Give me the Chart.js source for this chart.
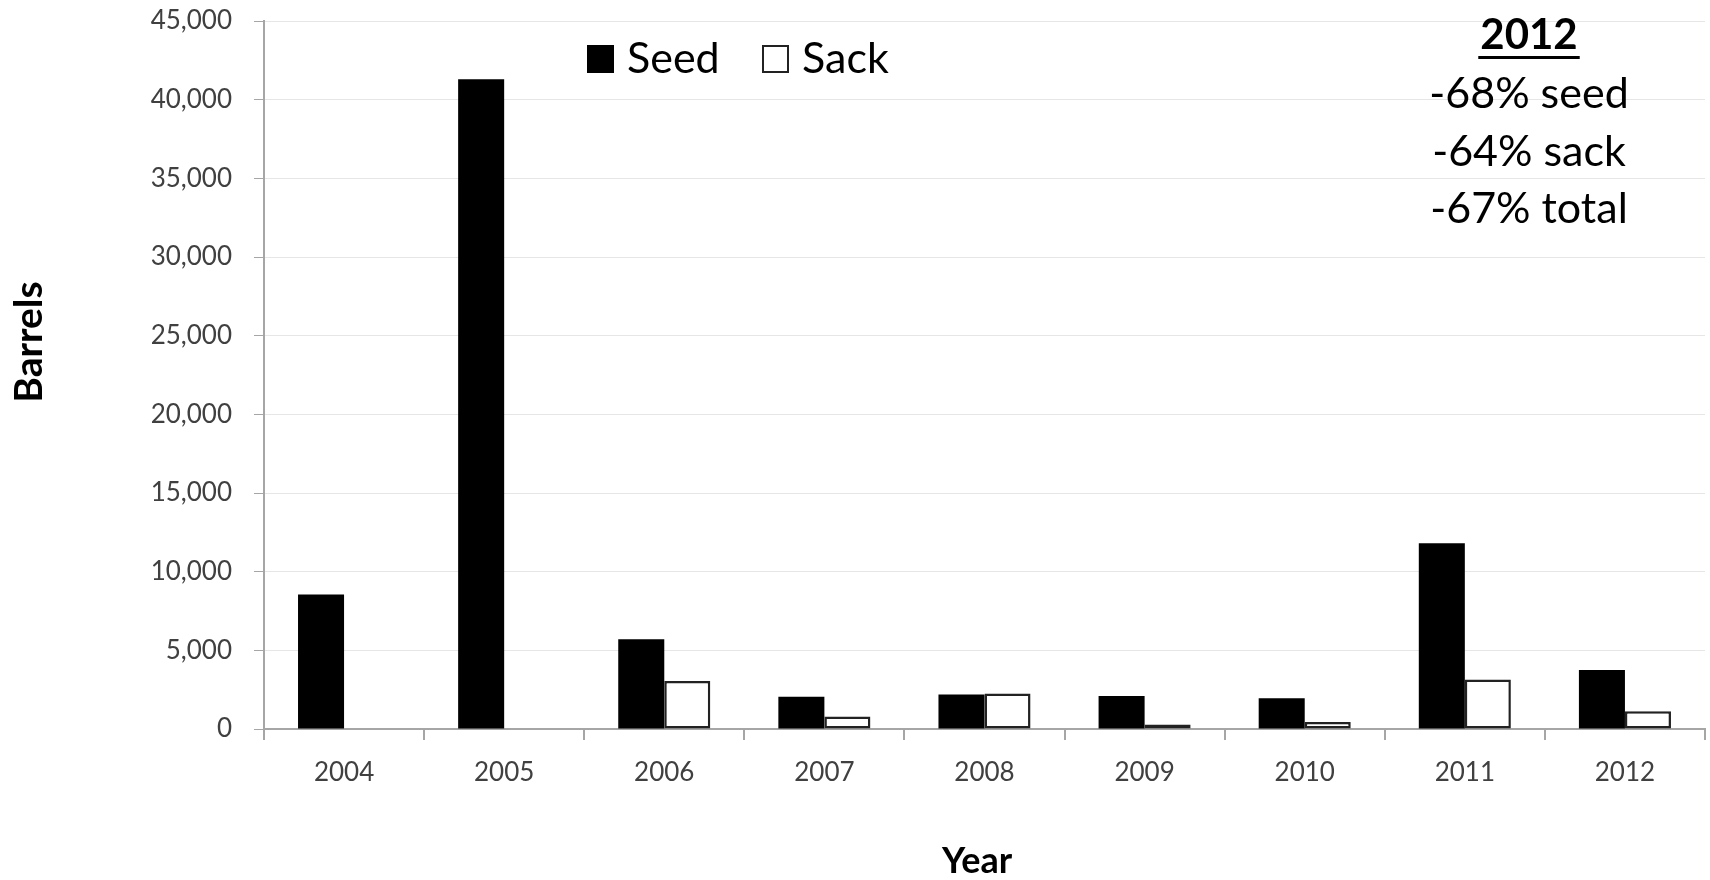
<!DOCTYPE html>
<html>
<head>
<meta charset="utf-8">
<script src="https://cdn.jsdelivr.net/npm/chart.js@4/dist/chart.umd.min.js"></script>
<style>
  html, body { margin: 0; padding: 0; background: #fff; }
  #wrap { width: 1710px; height: 880px; }
</style>
</head>
<body>
<div id="wrap"><canvas id="my-chart" width="1710" height="880"></canvas></div>
<script>
// data
const years = ["2004", "2005", "2006", "2007", "2008", "2009", "2010", "2011", "2012"];
const seedValues = [8550, 41300, 5700, 2050, 2200, 2100, 1950, 11800, 3750];
const sackValues = [null, null, 3050, 800, 2250, 280, 450, 3150, 1130];
const yMax = 45000;
const yStep = 5000;
const noteTitle = "2012";
const noteLines = ["-68% seed", "-64% sack", "-67% total"];
const xTitle = "Year";
const yTitle = "Barrels";

const FONT = "Lato, 'Open Sans', sans-serif";
const AXIS_GRAY = "#a6a6a6";

// axis titles, legend and the 2012 note
const extras = {
  id: "extras",
  afterDraw(chart) {
    const ctx = chart.ctx;
    ctx.save();
    ctx.fillStyle = "#000";

    // y title
    ctx.save();
    ctx.translate(42, 342);
    ctx.rotate(-Math.PI / 2);
    ctx.font = "bold 39px " + FONT;
    ctx.textAlign = "center";
    ctx.textBaseline = "alphabetic";
    ctx.fillText(yTitle, 0, 0);
    ctx.restore();

    // x title
    ctx.font = "bold 36px " + FONT;
    ctx.textAlign = "center";
    ctx.textBaseline = "alphabetic";
    ctx.fillText(xTitle, 977, 873);

    // legend
    const sets = chart.data.datasets;
    const legendX = [587, 762];
    ctx.font = "43px " + FONT;
    ctx.textAlign = "left";
    sets.forEach((ds, i) => {
      const x = legendX[i];
      ctx.fillStyle = ds.backgroundColor;
      ctx.fillRect(x, 45, 27, 28);
      if (ds.borderWidth) {
        ctx.strokeStyle = ds.borderColor;
        ctx.lineWidth = 2;
        ctx.strokeRect(x + 1, 46, 25, 26);
      }
      ctx.fillStyle = "#000";
      ctx.fillText(ds.label, x + 40, 73);
    });

    // 2012 note
    ctx.textAlign = "center";
    ctx.font = "bold 42px " + FONT;
    ctx.fillText(noteTitle, 1529, 49);
    const w = ctx.measureText(noteTitle).width;
    ctx.fillRect(1529 - w / 2 - 2, 56, w + 4, 3);
    ctx.font = "43px " + FONT;
    const baselines = [108, 166, 223];
    noteLines.forEach((t, i) => ctx.fillText(t, 1529, baselines[i]));

    ctx.restore();
  }
};

const ctx = document.getElementById("my-chart").getContext("2d");

const myChart = new Chart(ctx, {
  type: "bar",
  data: {
    labels: years,
    datasets: [
      {
        label: "Seed",
        data: seedValues,
        backgroundColor: "#000000",
        borderWidth: 0
      },
      {
        label: "Sack",
        data: sackValues,
        backgroundColor: "#ffffff",
        borderColor: "#222222",
        borderWidth: 2.5,
        borderSkipped: false
      }
    ]
  },
  options: {
    responsive: false,
    devicePixelRatio: 1,
    animation: false,
    layout: { padding: { top: 21, right: 5, left: 0, bottom: 0 } },
    plugins: {
      legend: { display: false },
      tooltip: { enabled: false }
    },
    datasets: {
      bar: { barPercentage: 1, categoryPercentage: 0.575 }
    },
    scales: {
      x: {
        afterFit(scale) {
          scale.height = 151;
          scale.paddingLeft = 0;
          scale.paddingRight = 0;
        },
        grid: {
          offset: true,
          drawOnChartArea: false,
          drawTicks: true,
          tickLength: 11,
          tickColor: AXIS_GRAY,
          lineWidth: 2
        },
        border: { color: AXIS_GRAY, width: 2 },
        ticks: {
          color: "#404040",
          font: { family: FONT, size: 26 },
          padding: 17,
          maxRotation: 0
        }
      },
      y: {
        min: 0,
        max: yMax,
        afterFit(scale) {
          scale.width = 264;
          scale.paddingTop = 0;
          scale.paddingBottom = 0;
        },
        grid: {
          color: "#e6e6e6",
          lineWidth: 1,
          drawTicks: true,
          tickLength: 10,
          tickColor: AXIS_GRAY
        },
        border: { color: AXIS_GRAY, width: 2 },
        ticks: {
          stepSize: yStep,
          color: "#404040",
          font: { family: FONT, size: 26 },
          padding: 22,
          callback: v => v.toLocaleString("en-US")
        }
      }
    }
  },
  plugins: [extras]
});
</script>
</body>
</html>
